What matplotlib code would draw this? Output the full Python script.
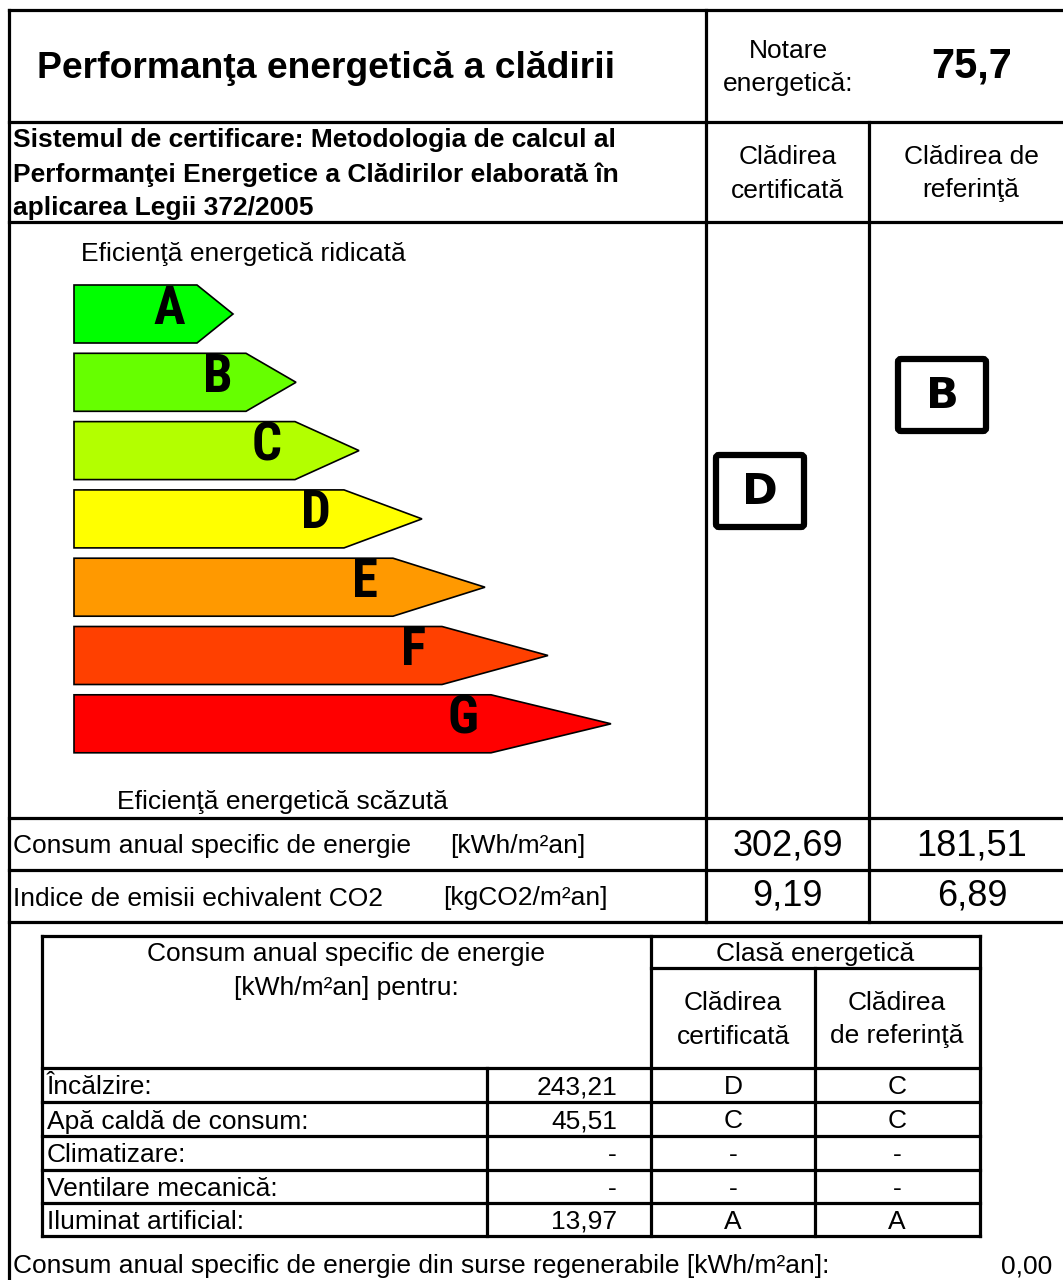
import matplotlib
matplotlib.use("Agg")
import matplotlib.pyplot as plt
from matplotlib import font_manager as fm
from matplotlib.patches import Polygon, FancyBboxPatch

plt.rcParams["font.family"] = ["Liberation Sans", "DejaVu Sans"]

# --- data ---------------------------------------------------------------
energy_rating = 75.7
classes = ["A", "B", "C", "D", "E", "F", "G"]
class_colors = ["#00ff00", "#66ff00", "#b3ff00", "#ffff00", "#ff9900", "#ff4000", "#ff0000"]
class_certified = "D"
class_reference = "B"
consumption = [302.69, 181.51]       # certified, reference [kWh/m2an]
co2_index = [9.19, 6.89]             # certified, reference [kgCO2/m2an]
uses = ["Încălzire:", "Apă caldă de consum:", "Climatizare:",
        "Ventilare mecanică:", "Iluminat artificial:"]
use_values = [243.21, 45.51, None, None, 13.97]
use_class_cert = ["D", "C", "-", "-", "A"]
use_class_ref = ["C", "C", "-", "-", "A"]
renewable = 0.00


def fmt(v):
    return "-" if v is None else f"{v:.2f}".replace(".", ",")


def narrow_bold_font():
    """Pick a condensed bold face for the class letters, if one is installed."""
    cands = []
    for f in fm.fontManager.ttflist:
        name = f.name.lower()
        narrow = ("narrow" in name or "condensed" in name
                  or "condensed" in str(f.stretch) or "narrow" in f.fname.lower())
        w = f.weight if isinstance(f.weight, int) else 700 if "bold" in str(f.weight) else 400
        if narrow and w >= 700:
            cands.append(f)
    if not cands:
        return fm.FontProperties(family="DejaVu Sans", weight="bold", stretch="condensed")
    cands.sort(key=lambda f: (0 if "liberation" in f.name.lower() else
                              1 if "roboto" in f.name.lower() else 2, f.fname))
    return fm.FontProperties(fname=cands[0].fname)


W, H = 1063, 1280
fig = plt.figure(figsize=(W / 100, H / 100), dpi=100)
ax = fig.add_axes([0, 0, 1, 1])
ax.set_xlim(0, W)
ax.set_ylim(H, 0)
ax.axis("off")

LW = 2.3
DY = 2.5  # small downward nudge so text centres match the cell centres


def line(x0, y0, x1, y1, lw=LW):
    ax.plot([x0, x1], [y0, y1], color="black", lw=lw, solid_capstyle="projecting")


def txt(x, y, s, size=19, ha="left", weight="normal", **kw):
    ax.text(x, y + DY, s, fontsize=size, ha=ha, va="center", weight=weight, **kw)


# --- frame of upper block ---------------------------------------------
line(9, 10, W, 10)
line(9, 10, 9, H)
for y in (122, 222, 818, 870, 922):
    line(9, y, W, y)
line(706, 10, 706, 922)
line(869, 122, 869, 922)

# header texts
txt(37, 66, "Performanţa energetică a clădirii", size=26.8, weight="bold")
txt(788, 48, "Notare", ha="center")
txt(788, 81, "energetică:", ha="center")
txt(972, 64, f"{energy_rating:.1f}".replace(".", ","), size=30, ha="center", weight="bold")

sub = ["Sistemul de certificare: Metodologia de calcul al",
       "Performanţei Energetice a Clădirilor elaborată în",
       "aplicarea Legii 372/2005"]
for i, s in enumerate(sub):
    txt(13, 138 + 34 * i, s, size=19, weight="bold")
txt(788, 155, "Clădirea", ha="center")
txt(788, 188, "certificată", ha="center")
txt(971, 155, "Clădirea de", ha="center")
txt(971, 188, "referinţă", ha="center")

# --- energy class arrows ------------------------------------------------
txt(81, 252, "Eficienţă energetică ridicată")
txt(117, 800, "Eficienţă energetică scăzută")
letter_font = narrow_bold_font()
x0 = 74
for i, (c, col) in enumerate(zip(classes, class_colors)):
    top = 285 + 68.3 * i
    bot = top + 58
    xr = 197 + 49 * i
    xt = 233 + 63 * i
    poly = Polygon([(x0, top), (xr, top), (xt, (top + bot) / 2), (xr, bot), (x0, bot)],
                   closed=True, facecolor=col, edgecolor="black", lw=1.2)
    ax.add_patch(poly)
    ax.text(xr - 28, (top + bot) / 2 - 5, c, fontproperties=letter_font, fontsize=38,
            ha="center", va="center")


def class_box(xc, yc, letter):
    bw, bh = 88, 72
    ax.add_patch(FancyBboxPatch((xc - bw / 2, yc - bh / 2), bw, bh,
                                boxstyle="round,pad=0,rounding_size=3",
                                facecolor="white", edgecolor="black", lw=4.5))
    ax.text(xc, yc + 1, letter, fontsize=31, weight="heavy",
            family=["DejaVu Sans"], ha="center", va="center")


class_box(760, 491, class_certified)
class_box(942, 395, class_reference)

# --- consumption rows ---------------------------------------------------
txt(13, 844, "Consum anual specific de energie")
txt(450, 844, "[kWh/m²an]")
txt(13, 896, "Indice de emisii echivalent CO2")
txt(443, 896, "[kgCO2/m²an]")
for xc, v in zip((788, 972), consumption):
    txt(xc, 843, fmt(v), size=26, ha="center")
for xc, v in zip((788, 972), co2_index):
    txt(xc, 894, fmt(v), size=26, ha="center")

# --- detail table ---------------------------------------------------------
tl, tr, tt, tb = 42, 980, 936, 1236
line(tl, tt, tr, tt)
line(tl, tb, tr, tb)
line(tl, tt, tl, tb)
line(tr, tt, tr, tb)
line(651, tt, 651, tb)
line(651, 968, tr, 968)
line(815, 968, 815, tb)
line(487, 1068, 487, tb)
row_tops = [1068, 1102, 1136, 1170, 1203]
for y in row_tops:
    line(tl, y, tr, y)

txt(346, 952, "Consum anual specific de energie", ha="center")
txt(346, 986, "[kWh/m²an] pentru:", ha="center")
txt(815, 951, "Clasă energetică", ha="center")
txt(733, 1001, "Clădirea", ha="center")
txt(733, 1034, "certificată", ha="center")
txt(897, 1001, "Clădirea", ha="center")
txt(897, 1034, "de referinţă", ha="center")

row_bounds = row_tops + [tb]
for i, (lab, v, cc, cr) in enumerate(zip(uses, use_values, use_class_cert, use_class_ref)):
    yc = (row_bounds[i] + row_bounds[i + 1]) / 2
    txt(47, yc, lab)
    txt(617, yc, fmt(v), ha="right")
    txt(733, yc, cc, ha="center")
    txt(897, yc, cr, ha="center")

txt(13, 1264, "Consum anual specific de energie din surse regenerabile [kWh/m²an]:")
txt(1052, 1264, fmt(renewable), ha="right")

fig.savefig("out.png", dpi=100)
